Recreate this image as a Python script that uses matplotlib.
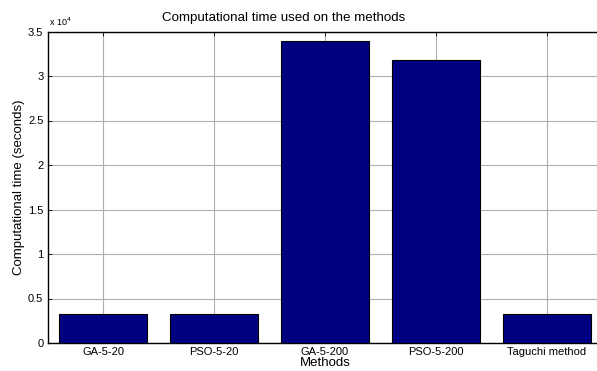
import matplotlib
matplotlib.use("Agg")
import matplotlib.pyplot as plt

categories = ["GA-5-20", "PSO-5-20", "GA-5-200", "PSO-5-200", "Taguchi method"]
times = [3220, 3290, 33900, 31800, 3220]
yticks = [0, 0.5, 1, 1.5, 2, 2.5, 3, 3.5]

plt.rcParams['font.family'] = ['Liberation Sans', 'DejaVu Sans']

fig = plt.figure(figsize=(5.97, 3.71), dpi=100)
W, H = 597, 371
left, right, top, bottom = 47.5, 602.5, 31.5, 343
ax = fig.add_axes([left / W, 1 - bottom / H, (right - left) / W, (bottom - top) / H])

x = list(range(1, len(categories) + 1))
vals = [t / 1e4 for t in times]
ax.bar(x, vals, width=0.8, color='#000080', edgecolor='black', linewidth=0.8, zorder=3)

ax.set_xlim(0.5, 5.5)
ax.set_ylim(0, 3.5)
ax.set_xticks(x)
ax.set_xticklabels(categories, fontsize=8)
ax.set_yticks(yticks)
ax.set_yticklabels([("%g" % v) for v in yticks], fontsize=8)
ax.tick_params(direction='in', length=3, top=True, right=True, width=0.6, pad=3)
ax.grid(True, color='#b0b0b0', linewidth=0.8, zorder=0)
for s in ax.spines.values():
    s.set_linewidth(1.0)

ax.set_xlabel("Methods", fontsize=9.5, labelpad=0)
ax.yaxis.set_label_coords(-19 / (right - left) * 0 + (19 - left) / (right - left), 0.5)
ax.set_ylabel("Computational time (seconds)", fontsize=9.5, va='center')
fig.text(284 / W, 1 - 18 / H, "Computational time used on the methods", fontsize=9.6,
         ha='center', va='center')
fig.text(49 / W, 1 - 28 / H, r"x 10$^{4}$", fontsize=6.5, ha='left', va='bottom')

fig.savefig("out.png", dpi=100)
